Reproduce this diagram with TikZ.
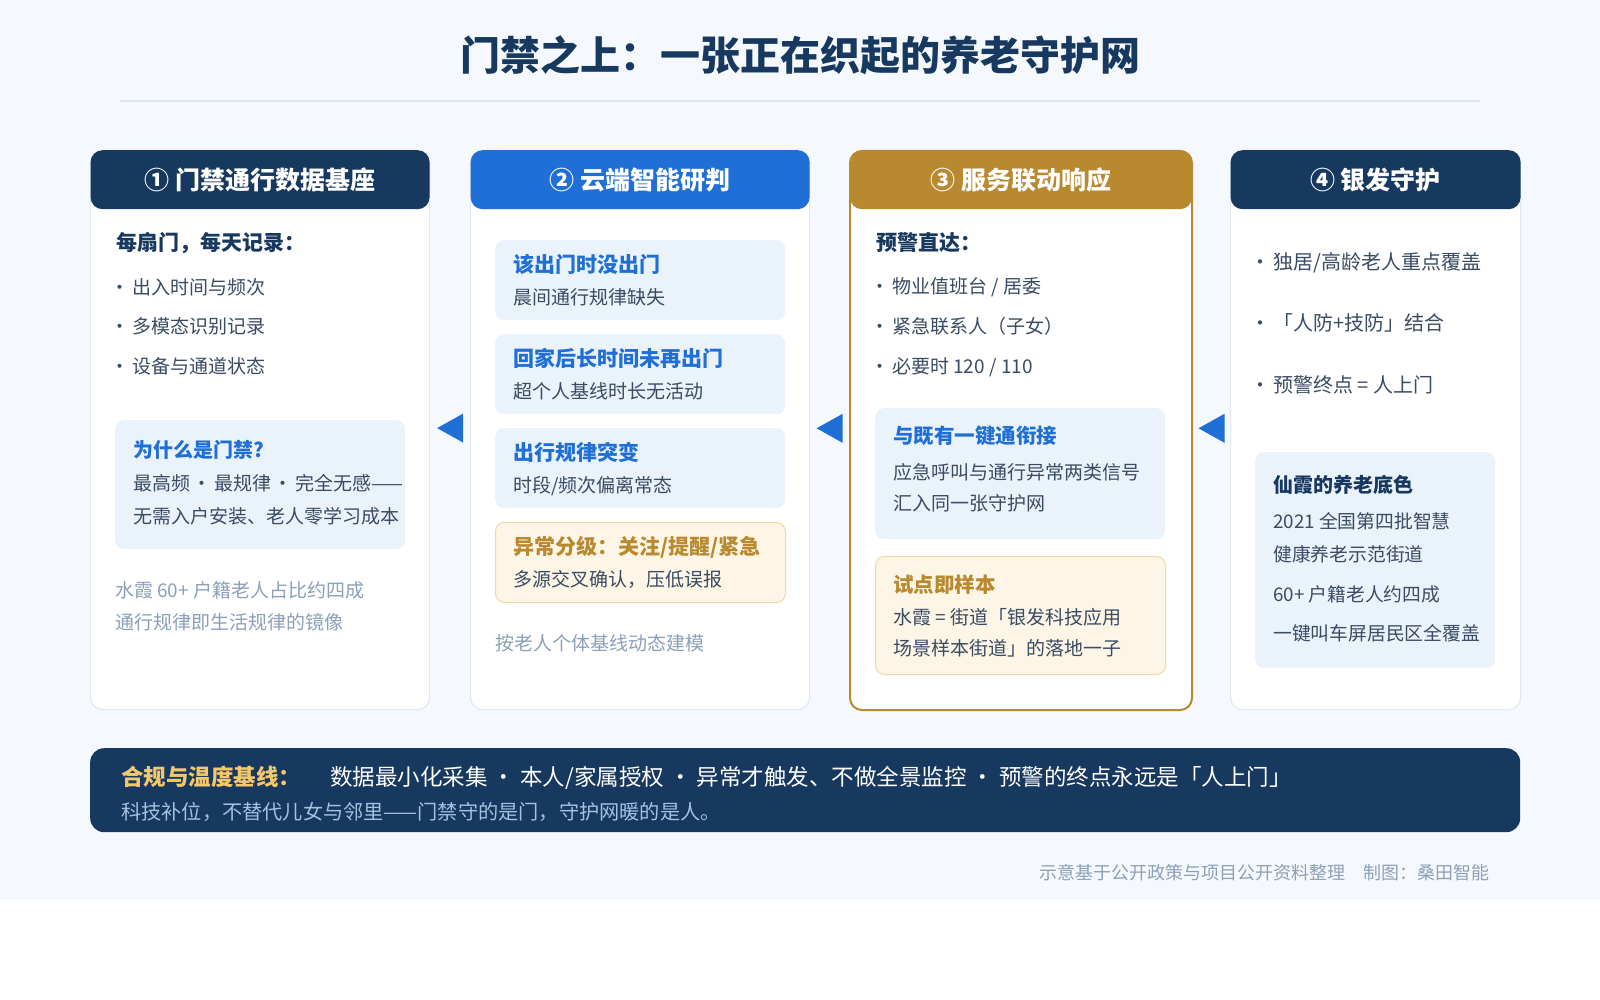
\documentclass[tikz,border=0pt]{standalone}
\usepackage{fontspec}
\setmainfont{Noto Sans CJK SC}
\usetikzlibrary{positioning, calc}
\usepackage{xcolor}
\definecolor{Navy}{RGB}{23,56,95}
\definecolor{Blue}{RGB}{31,111,214}
\definecolor{Gold}{RGB}{184,137,47}
\definecolor{Bg}{RGB}{245,249,253}
\definecolor{CardLine}{RGB}{225,232,242}
\definecolor{SoftBlue}{RGB}{234,242,252}
\definecolor{Warm}{RGB}{253,246,231}
\definecolor{WarmLine}{RGB}{239,217,166}
\definecolor{Ink}{RGB}{58,75,99}
\definecolor{Muted}{RGB}{140,160,186}
\definecolor{BannerGold}{RGB}{243,199,107}
\definecolor{BannerSub}{RGB}{167,193,224}
\definecolor{TitleLine}{RGB}{220,229,242}

\begin{document}
\begin{tikzpicture}[
          x=1pt, y=-1pt,
          sz/.style={font=\fontsize{#1}{#1}\selectfont, text height={0.88*#1pt}, text depth={0.12*#1pt}, inner sep=0pt},
          bsz/.style={sz=#1, font=\fontsize{#1}{#1}\selectfont\bfseries},
          txt/.style={anchor=west},
          card/.style={draw=CardLine, line width=1.2pt, fill=white, rounded corners=12pt, anchor=north west, minimum height=559pt},
          head/.style={anchor=north, rounded corners=12pt, minimum height=59pt, text=white, bsz=25},
          softbox/.style={fill=SoftBlue, rounded corners=9pt, anchor=north west, minimum width=290pt},
          warmbox/.style={softbox, fill=Warm, draw=WarmLine, line width=1pt}
        ]
          % page
          \useasboundingbox (0,0) rectangle (1600,1000);
          \fill[white] (0,0) rectangle (1600,1000);
          \fill[Bg] (0,0) rectangle (1600,900);
          \node (title) [bsz=40, text=Navy] at (800,55) {门禁之上：一张正在织起的养老守护网};
          \draw[TitleLine, line width=2pt] (120,101) -- (1480,101);

          % cards
          \node (c1) [card, minimum width=339pt] at (90,150) {};
          \node (c2) [card, minimum width=339pt] at (470,150) {};
          \node (c3) [card, draw=Gold, line width=2pt, minimum width=342pt] at (849,150) {};
          \node (c4) [card, minimum width=290pt] at (1230,150) {};
          \node (h1) [head, fill=Navy, minimum width=339pt] at (c1.north) {① 门禁通行数据基座};
          \node (h2) [head, fill=Blue, minimum width=339pt] at (c2.north) {② 云端智能研判};
          \node (h3) [head, fill=Gold, minimum width=342pt] at (c3.north) {③ 服务联动响应};
          \node (h4) [head, fill=Navy, minimum width=290pt] at (c4.north) {④ 银发守护};

          % arrows between cards
          \foreach \a/\b in {c1/c2, c2/c3, c3/c4} {
            \coordinate (m\a) at ($(\a.east)!0.5!(\b.west)$);
            \fill[Blue] ($(m\a)+(-13,-2)$) -- ($(m\a)+(13,-16.5)$) -- ($(m\a)+(13,12.5)$) -- cycle;
          }

          % column 1
          \node (c1t) [bsz=21, text=Navy, txt] at (116,243) {每扇门，每天记录：};
          \foreach \y/\s [count=\i] in {287/出入时间与频次, 326/多模态识别记录, 366/设备与通道状态}
            \node (c1b\i) [sz=19, text=Ink, txt] at (110,\y) {·\hspace{3pt}\s};
          \node (c1q) [softbox, minimum height=129pt] at (115,420) {};
          \node (c1qt) [bsz=20, text=Blue, txt] at (133,450) {为什么是门禁?};
          \node (c1q1) [sz=19, text=Ink, txt] at (133,483) {最高频\hspace{2.5pt}·\hspace{2.5pt}最规律\hspace{2.5pt}·\hspace{2.5pt}完全无感——};
          \node (c1q2) [sz=19, text=Ink, txt] at (133,516) {无需入户安装、老人零学习成本};
          \node (c1n1) [sz=19, text=Muted, txt] at (115,590) {水霞 60+ 户籍老人占比约四成};
          \node (c1n2) [sz=19, text=Muted, txt] at (115,622) {通行规律即生活规律的镜像};

          % column 2
          \foreach \y/\a/\b [count=\i] in {240/该出门时没出门/晨间通行规律缺失, 334/回家后长时间未再出门/超个人基线时长无活动, 428/出行规律突变/{时段/频次偏离常态}} {
            \node (c2s\i) [softbox, minimum height=80pt] at (495,\y) {};
            \node (c2s\i t) [bsz=21, text=Blue, txt] at ($(c2s\i.north west)+(18,25)$) {\a};
            \node (c2s\i s) [sz=19, text=Ink, txt] at ($(c2s\i.north west)+(18,57)$) {\b};
          }
          \node (c2w) [warmbox, minimum height=80pt] at (495,522) {};
          \node (c2wt) [bsz=21, text=Gold, txt] at ($(c2w.north west)+(18,25)$) {异常分级：关注/提醒/紧急};
          \node (c2ws) [sz=19, text=Ink, txt] at ($(c2w.north west)+(18,57)$) {多源交叉确认，压低误报};
          \node (c2n) [sz=19, text=Muted, txt] at (495,643) {按老人个体基线动态建模};

          % column 3
          \node (c3t) [bsz=21, text=Navy, txt] at (876,243) {预警直达：};
          \foreach \y/\s [count=\i] in {286/{物业值班台 / 居委}, 326/紧急联系人（子女）, 366/{必要时 120 / 110}}
            \node (c3b\i) [sz=19, text=Ink, txt] at (870,\y) {·\hspace{3pt}\s};
          \node (c3q) [softbox, minimum height=131pt] at (875,408) {};
          \node (c3qt) [bsz=20.5, text=Blue, txt] at (893,436) {与既有一键通衔接};
          \node (c3q1) [sz=19, text=Ink, txt] at (893,472) {应急呼叫与通行异常两类信号};
          \node (c3q2) [sz=19, text=Ink, txt] at (893,503) {汇入同一张守护网};
          \node (c3w) [warmbox, minimum height=118pt] at (875,556) {};
          \node (c3wt) [bsz=20.5, text=Gold, txt] at (893,585) {试点即样本};
          \node (c3w1) [sz=19, text=Ink, txt] at (893,617) {水霞 = 街道「银发科技应用};
          \node (c3w2) [sz=19, text=Ink, txt] at (893,648) {场景样本街道」的落地一子};

          % column 4
          \foreach \y/\s [count=\i] in {262/{独居/高龄老人重点覆盖}, 323/「人防+技防」结合, 385/预警终点 = 人上门}
            \node (c4b\i) [sz=20, text=Ink, txt] at (1250,\y) {·\hspace{3pt}\s};
          \node (c4q) [softbox, minimum width=240pt, minimum height=216pt] at (1255,452) {};
          \node (c4qt) [bsz=20, text=Navy, txt] at (1273,485) {仙霞的养老底色};
          \foreach \y/\s [count=\i] in {521/2021 全国第四批智慧, 554/健康养老示范街道, 594/60+ 户籍老人约四成, 633/一键叫车屏居民区全覆盖}
            \node (c4q\i) [sz=18.8, text=Ink, txt] at (1273,\y) {\s};

          % banner
          \node (band) [fill=Navy, rounded corners=14pt, anchor=north west, minimum width=1430pt, minimum height=84pt] at (90,748) {};
          \node (bandt) [bsz=22.5, text=BannerGold, txt] at (121,777) {合规与温度基线：};
          \node (bandm) [sz=22.5, text=white, txt] at (330,777) {数据最小化采集 · 本人/家属授权 · 异常才触发、不做全景监控 · 预警的终点永远是「人上门」};
          \node (bands) [sz=20.2, text=BannerSub, txt] at (121,812) {科技补位，不替代儿女与邻里——门禁守的是门，守护网暖的是人。};

          % footer
          \node (foot) [sz=18, text=Muted, anchor=east] at (1490,873) {示意基于公开政策与项目公开资料整理\hspace{1em}制图：桑田智能};
        \end{tikzpicture}
\end{document}
